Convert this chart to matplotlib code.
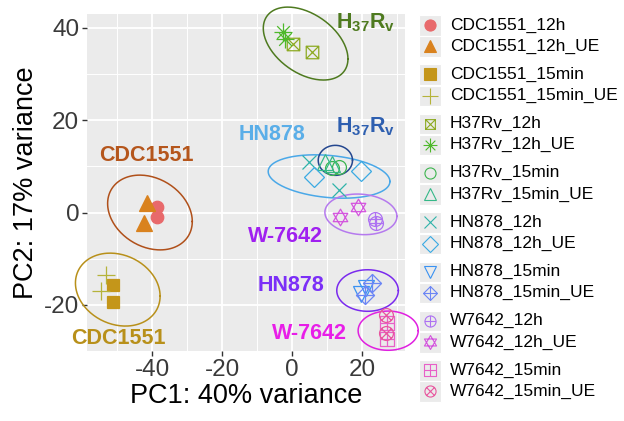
import numpy as np
import matplotlib.pyplot as plt
from matplotlib.path import Path
from matplotlib.patches import Rectangle

plt.rcParams['font.family'] = ['Liberation Sans', 'DejaVu Sans']
plt.rcParams['mathtext.fontset'] = 'custom'
plt.rcParams['mathtext.rm'] = 'Liberation Sans'
plt.rcParams['mathtext.bf'] = 'Liberation Sans:bold'
plt.rcParams['axes.unicode_minus'] = False

# samples (legend order)
groups = ['CDC1551_12h', 'CDC1551_12h_UE', 'CDC1551_15min', 'CDC1551_15min_UE',
          'H37Rv_12h', 'H37Rv_12h_UE', 'H37Rv_15min', 'H37Rv_15min_UE',
          'HN878_12h', 'HN878_12h_UE', 'HN878_15min', 'HN878_15min_UE',
          'W7642_12h', 'W7642_12h_UE', 'W7642_15min', 'W7642_15min_UE']
colors = ['#E8696B', '#D9821E', '#C4961A', '#B5B33A',
          '#8DAA22', '#4DB82A', '#3DB54F', '#35B888',
          '#2FB3AA', '#3AAAE3', '#3A92F2', '#6C86F5',
          '#AE72F2', '#D455DE', '#E860C8', '#E8569E']

pc1 = [[-38.5, -38.5], [-41.5, -42.2], [-51.1, -51.1], [-53.1, -54.7],
       [0.4, 5.6], [-2.7, -2.0], [11.3, 13.5], [9.4, 11.3],
       [4.9, 13.5], [6.3, 19.7], [19.6, 21.3], [22.8, 20.8],
       [23.7, 24.0], [13.7, 18.9], [27.1, 27.2], [26.8, 26.9]]
pc2 = [[1.3, -0.9], [2.0, -2.3], [-15.6, -19.4], [-13.6, -17.1],
       [36.6, 34.8], [39.2, 37.6], [9.6, 9.9], [11.0, 10.6],
       [10.9, 4.9], [7.8, 8.9], [-17.6, -16.4], [-15.3, -17.8],
       [-1.4, -2.3], [-0.9, 1.3], [-24.0, -27.3], [-22.3, -26.0]]

# confidence ellipses: centre, half extents, correlation
ell_cx = [3.9, -40.6, -49.8, 10.6, 12.4, 19.7, 21.6, 27.5]
ell_cy = [36.6, 0.0, -16.7, 7.8, 11.3, -0.4, -16.9, -25.6]
ell_rx = [12.1, 12.1, 12.1, 17.4, 4.9, 10.3, 8.8, 8.6]
ell_ry = [7.9, 8.1, 7.9, 4.7, 3.25, 4.4, 4.5, 4.25]
ell_rho = [-0.42, -0.24, -0.18, -0.23, 0.0, -0.1, 0.0, 0.0]
ell_colors = ['#4E7A1F', '#B0501A', '#B8901A', '#4AA8E8', '#24478F', '#B57AEE', '#7A2AEE', '#E020E0']

# strain labels
lab_text = [r'$\mathbf{H_{37}R_v}$', r'$\mathbf{H_{37}R_v}$', 'HN878', 'CDC1551',
            'W-7642', 'HN878', 'W-7642', 'CDC1551']
lab_x = [21.1, 21.1, -5.8, -41.7, -2.0, -0.3, 4.9, -49.5]
lab_y = [41.2, 18.6, 16.8, 12.3, -5.2, -15.8, -26.2, -27.2]
lab_colors = ['#4E7A1F', '#2E5FB0', '#5AAEE8', '#B5561C', '#A020F0', '#7B2FF7', '#E81EE8', '#B8901A']


def seg(a, b):
    return Path([a, b], [Path.MOVETO, Path.LINETO])


def poly(pts):
    return Path(pts + [pts[0]], [Path.MOVETO] + [Path.LINETO] * (len(pts) - 1) + [Path.CLOSEPOLY])


square = poly([(-1, -1), (1, -1), (1, 1), (-1, 1)])
diamond = poly([(0, -1), (1, 0), (0, 1), (-1, 0)])
circle = Path.unit_circle()
plus = Path.make_compound_path(seg((-1, 0), (1, 0)), seg((0, -1), (0, 1)))
cross = Path.make_compound_path(seg((-1, -1), (1, 1)), seg((-1, 1), (1, -1)))
cross_in = Path.make_compound_path(seg((-.7, -.7), (.7, .7)), seg((-.7, .7), (.7, -.7)))
square_x = Path.make_compound_path(square, cross)
square_plus = Path.make_compound_path(square, plus)
circle_plus = Path.make_compound_path(circle, plus)
circle_x = Path.make_compound_path(circle, cross_in)
diamond_plus = Path.make_compound_path(diamond, plus)
asterisk = Path.make_compound_path(plus, cross_in)
david = Path.make_compound_path(poly([(0, 1), (0.87, -0.5), (-0.87, -0.5)]),
                                poly([(0, -1), (0.87, 0.5), (-0.87, 0.5)]))

markers = ['o', '^', 's', '+', square_x, asterisk, 'o', '^',
           'x', 'D', 'v', diamond_plus, circle_plus, david, square_plus, circle_x]
filled = [True, True, True, False] + [False] * 12
msize = [9, 11, 9, 13, 9, 13, 10, 11, 10, 10, 11, 13, 10, 12, 10, 10]
lsize = [8, 9, 8, 11, 7, 10, 8, 9, 8, 8, 9, 10, 8, 10, 8, 8]

fig = plt.figure(figsize=(6.24, 4.21), dpi=100)
ax = fig.add_axes([0.1394, 0.1663, 0.5096, 0.8004])
ax.set_facecolor('#EBEBEB')
ax.set_xlim(-58.6, 32.3)
ax.set_ylim(-29.8, 43.0)
ax.set_xticks([-40, -20, 0, 20])
ax.set_yticks([-20, 0, 20, 40])
ax.set_xticks([-50, -30, -10, 10, 30], minor=True)
ax.set_yticks([-30, -10, 10, 30], minor=True)
ax.grid(which='major', color='white', lw=1.3)
ax.grid(which='minor', color='white', lw=0.7)
ax.set_axisbelow(True)
for s in ax.spines.values():
    s.set_visible(False)
ax.tick_params(which='major', length=3.5, width=1, color='#333333', labelsize=17.5,
               labelcolor='#3A3A3A', pad=2)
ax.tick_params(which='minor', length=0)
ax.set_xlabel('PC1: 40% variance', fontsize=19.5, labelpad=2)
ax.set_ylabel('PC2: 17% variance', fontsize=19.5, labelpad=4)

t = np.linspace(0, 2 * np.pi, 200)
for cx, cy, rx, ry, rho, c in zip(ell_cx, ell_cy, ell_rx, ell_ry, ell_rho, ell_colors):
    d = np.arccos(rho)
    ax.plot(cx + rx * np.cos(t), cy + ry * np.cos(t + d), color=c, lw=1.1, clip_on=False, zorder=2)

for i, g in enumerate(groups):
    fc = colors[i] if filled[i] else 'none'
    ax.plot(pc1[i], pc2[i], linestyle='none', marker=markers[i], markersize=msize[i],
            markerfacecolor=fc, markeredgecolor=colors[i], markeredgewidth=0.9,
            clip_on=False, zorder=3)

for txt, x, y, c in zip(lab_text, lab_x, lab_y, lab_colors):
    ax.text(x, y, txt, color=c, fontsize=15.5, fontweight='bold', ha='center', va='center',
            clip_on=False)

# legend drawn in pixel coordinates
lg = fig.add_axes([0, 0, 1, 1], facecolor='none')
lg.set_xlim(0, 624)
lg.set_ylim(421, 0)
lg.axis('off')
for i, g in enumerate(groups):
    yc = 25 + 49.3 * (i // 2) + 21.3 * (i % 2)
    lg.add_patch(Rectangle((419, yc - 10), 22, 20.5, facecolor='#EBEBEB', edgecolor='white', lw=0.8))
    fc = colors[i] if filled[i] else 'none'
    lg.plot([430], [yc], linestyle='none', marker=markers[i], markersize=lsize[i],
            markerfacecolor=fc, markeredgecolor=colors[i], markeredgewidth=0.8)
    lg.text(450, yc, g, fontsize=12.5, va='center', ha='left', color='black')

fig.savefig('out.png', dpi=100)
